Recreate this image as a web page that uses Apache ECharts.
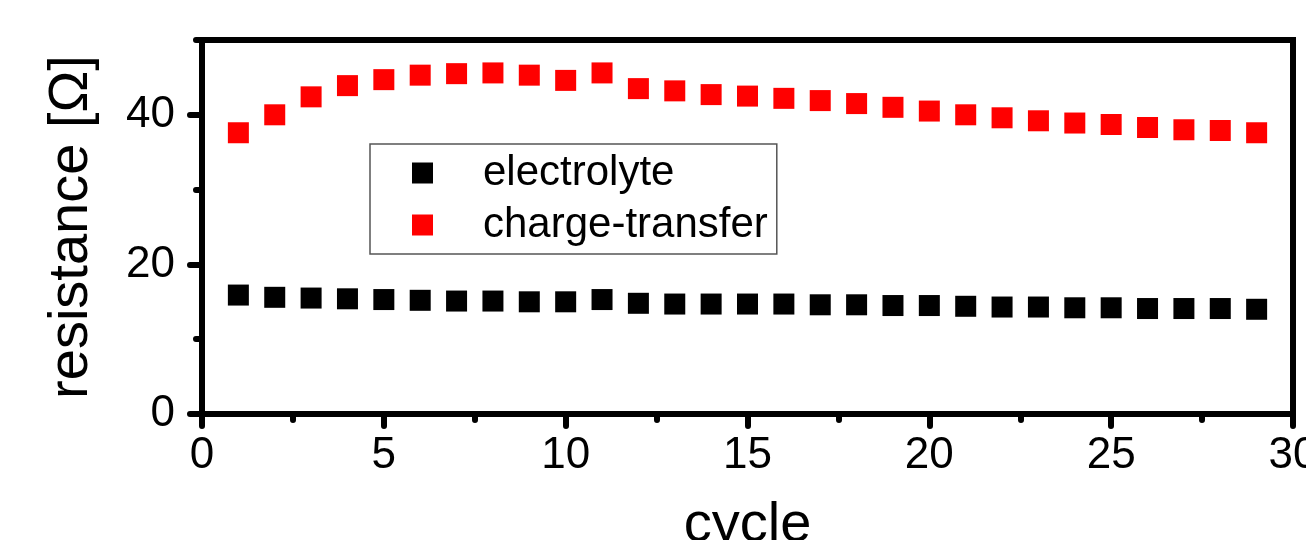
<!DOCTYPE html>
<html>
<head>
<meta charset="utf-8">
<script src="https://cdn.jsdelivr.net/npm/echarts@6/dist/echarts.min.js"></script>
<style>html,body{margin:0;padding:0;background:#fff;}#c{width:1306px;height:540px;}</style>
</head>
<body>
<div id="c"></div>
<script>
const cycles = [1,2,3,4,5,6,7,8,9,10,11,12,13,14,15,16,17,18,19,20,21,22,23,24,25,26,27,28,29];
const electrolyte = [15.9,15.6,15.5,15.4,15.3,15.2,15.1,15.1,15.0,15.0,15.3,14.8,14.7,14.7,14.7,14.7,14.6,14.6,14.5,14.5,14.4,14.3,14.3,14.2,14.2,14.1,14.1,14.1,14.0];
const chargeTransfer = [37.6,40.0,42.4,43.9,44.7,45.3,45.5,45.6,45.3,44.6,45.6,43.5,43.2,42.7,42.5,42.2,41.9,41.5,41.0,40.5,40.0,39.6,39.2,38.9,38.7,38.3,38.0,37.9,37.6];
const yTicks = [0,20,40];
const yMinorTicks = [10,30,50];
const xTickInterval = 5;
const seriesNames = ['electrolyte','charge-transfer'];

const font = 'Liberation Sans, Arial, sans-serif';
const chart = echarts.init(document.getElementById('c'));
chart.setOption({
  animation:false,
  backgroundColor:'#fff',
  grid:{left:202,right:13,top:40,bottom:126,containLabel:false,outerBoundsMode:'none',show:true,borderColor:'#000',borderWidth:6,backgroundColor:'transparent'},
  legend:{
    orient:'vertical', left:370, top:144,
    padding:[8,9,8,42],
    itemWidth:21, itemHeight:21, itemGap:10,
    borderColor:'#555', borderWidth:1.5,
    icon:'rect',
    textStyle:{fontFamily:font,fontSize:42,color:'#000',lineHeight:42,padding:[0,0,0,45]},
    data:seriesNames
  },
  xAxis:{
    type:'value', min:0, max:30, interval:xTickInterval,
    name:'cycle', nameLocation:'middle', nameGap:84,
    nameTextStyle:{fontFamily:font,fontSize:56,color:'#000'},
    axisLine:{show:true,onZero:false,lineStyle:{color:'#000',width:6}},
    axisTick:{show:true,inside:false,length:12,lineStyle:{color:'#000',width:6,cap:'round'}},
    minorTick:{show:true,splitNumber:2,length:6,lineStyle:{color:'#000',width:6,cap:'round'}},
    splitLine:{show:false},
    axisLabel:{fontFamily:font,fontSize:44,color:'#000',margin:20}
  },
  yAxis:[{
    type:'value', min:0, max:50, position:'left',
    name:'resistance [Ω]', nameLocation:'middle', nameGap:102,
    nameTextStyle:{fontFamily:font,fontSize:56,color:'#000'},
    axisLine:{show:true,onZero:false,lineStyle:{color:'#000',width:6}},
    axisTick:{show:true,inside:false,length:12,customValues:yTicks,lineStyle:{color:'#000',width:6,cap:'round'}},
    splitLine:{show:false},
    axisLabel:{fontFamily:font,fontSize:44,color:'#000',margin:27,customValues:yTicks}
  },{
    type:'value', min:0, max:50, position:'left',
    axisLine:{show:false},
    axisTick:{show:true,inside:false,length:6,customValues:yMinorTicks,lineStyle:{color:'#000',width:6,cap:'round'}},
    splitLine:{show:false},
    axisLabel:{show:false}
  }],
  series:[{
    name:seriesNames[0], type:'scatter', symbol:'rect', symbolSize:21,
    itemStyle:{color:'#000',opacity:1},
    data:cycles.map((c,i)=>[c,electrolyte[i]])
  },{
    name:seriesNames[1], type:'scatter', symbol:'rect', symbolSize:21,
    itemStyle:{color:'#ff0000',opacity:1},
    data:cycles.map((c,i)=>[c,chargeTransfer[i]])
  }]
});
</script>
</body>
</html>
